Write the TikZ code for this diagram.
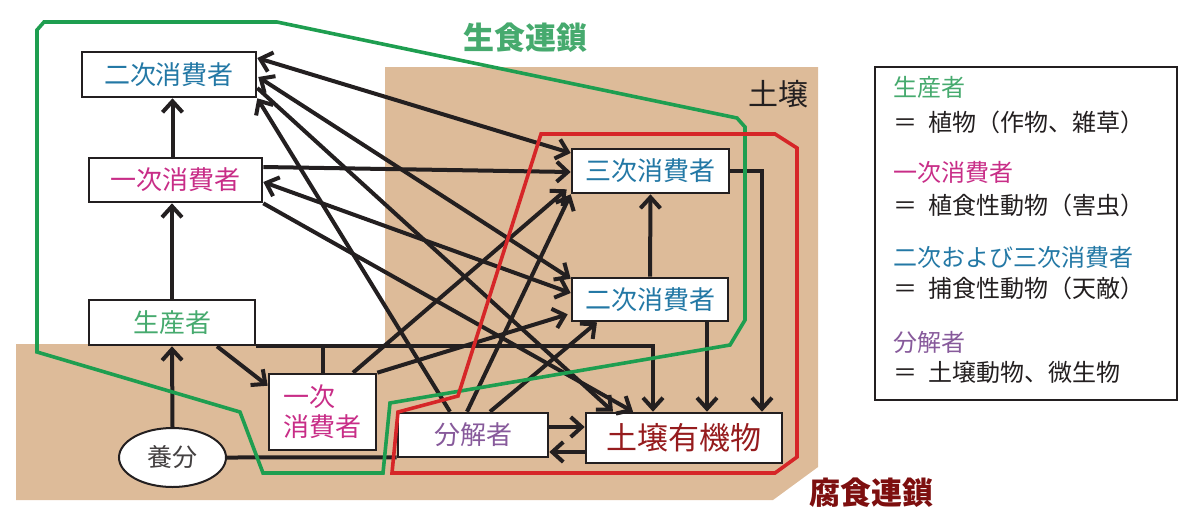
\documentclass[tikz,border=0pt]{standalone}
\usepackage{fontspec}
\setmainfont{Noto Sans CJK JP}
\usepackage{tikz}
\usetikzlibrary{calc,arrows.meta,positioning,shapes.geometric}
\definecolor{soil}{RGB}{221,187,153}
\definecolor{linegreen}{RGB}{30,158,80}
\definecolor{linered}{RGB}{214,38,40}
\definecolor{txtgreen}{RGB}{70,170,110}
\definecolor{txtmag}{RGB}{200,45,135}
\definecolor{txtblue}{RGB}{35,120,165}
\definecolor{txtpurple}{RGB}{135,90,155}
\definecolor{txtdred}{RGB}{150,28,30}
\definecolor{titlered}{RGB}{125,15,15}
\definecolor{ink}{RGB}{35,31,32}

\begin{document}
\begin{tikzpicture}
	[   x=0.5pt, y=-0.5pt,
	    cbox/.style={draw=ink,line width=1.3pt,fill=white,text=#1,inner sep=0pt,font=\fontsize{13}{15}\selectfont},
	    >={Straight Barb[length=5.5pt,width=10pt]},
	]
	\tikzset{normal arrow/.style={draw=ink,line width=2pt,->},
	         both arrow/.style={draw=ink,line width=2pt,<->},
	         plain line/.style={draw=ink,line width=2pt}}
	\useasboundingbox (0,0) rectangle (1200,516);
	\fill[soil] (16,344) -- (385,344) -- (385,67) -- (818,67) -- (818,467) -- (773,500) -- (16,500) -- cycle;
	\node[text=ink,font=\fontsize{15}{15}\selectfont] (soil) at (778,94) {土壌};
	
	\node[cbox=txtblue,minimum width=87pt,minimum height=22.5pt] (c2) at (169,74.5) {二次消費者};
	\node[cbox=txtmag,minimum width=86.5pt,minimum height=22pt] (c1) at (175.5,180) {一次消費者};
	\node[cbox=txtgreen,minimum width=83pt,minimum height=22.5pt] (prod) at (172,322.5) {生産者};
	\node[cbox=txtmag,minimum width=53.5pt,minimum height=38pt,align=left] (c1s) at (322.5,412) {一次\\消費者};
	\node[cbox=txtpurple,minimum width=75pt,minimum height=22pt] (dec) at (473,435) {分解者};
	\node[cbox=txtdred,minimum width=98pt,minimum height=25pt,font=\fontsize{15.5}{16}\selectfont] (org) at (684,438) {土壌有機物};
	\node[cbox=txtblue,minimum width=78.5pt,minimum height=22pt] (c3) at (650.5,171) {三次消費者};
	\node[cbox=txtblue,minimum width=78pt,minimum height=21.5pt] (c2s) at (650,299.5) {二次消費者};
	\node[cbox=ink!85,ellipse,line width=1pt,minimum width=53.5pt,minimum height=29.5pt,font=\fontsize{12.5}{13}\selectfont] (nut) at (172.5,457.5) {養分};
	
	\path[both arrow] ($(c2.east)+(0,-16.5)$) -- ($(c3.west)+(0,-18)$);
	\path[both arrow] ($(c2.east)+(1,2.5)$) -- ($(c2s.north west)+(0,2)$);
	\path[normal arrow] ($(c2.east)+(0,13.5)$) -- ($(org.north)+(-71,0)$);
	\path[normal arrow] ($(dec.north)+(-23,0)$) -- (c2.south east);
	\path[normal arrow] ($(c1.east)+(0,-13)$) -- ($(c3.west)+(0,1)$);
	\path[both arrow] ($(c1.east)+(0,2)$) -- ($(c2s.west)+(0,-6.5)$);
	\path[normal arrow] (c1.south east) -- ($(org.north)+(-51,0)$);
	\path[normal arrow] (c1.north -| nut) -- (c2.south -| nut);
	\path[normal arrow] (prod.north) -- (c1.south -| prod);
	\path[normal arrow] (nut.north) -- (prod.south);
	\path[normal arrow] ($(prod.south)+(45,0)$) -- ($(c1s.north west)+(0,13)$);
	\path[normal arrow] (prod.south east) -| ($(org.north)+(-31,0)$);
	\path[plain line] (c1s.north) -- (c1s.north |- prod.south);
	\path[normal arrow] ($(c1s.north)+(30.5,0)$) -- ($(c3.south west)+(-4,-5)$);
	\path[normal arrow] (c1s.north east) -- ($(c2s.south west)+(-3,-8)$);
	\path[normal arrow] ($(dec.north)+(-6,0)$) -- (c3.south west);
	\path[normal arrow] ($(dec.north)+(17,0)$) -- ($(c2s.south)+(-53,0)$);
	\path[normal arrow] (c3.east) -| ($(org.north)+(78,0)$);
	\path[normal arrow] ($(c2s.south)+(57,0)$) -- ($(org.north)+(23,0)$);
	\path[normal arrow] (c2s.north) -- (c3.south);
	\path[normal arrow] ($(dec.east)+(0,-8)$) -- ($(org.west)+(0,-11)$);
	\path[normal arrow] ($(org.west)+(0,14)$) -- ($(dec.east)+(0,17)$);
	\path[plain line] (nut.east) -- ($(dec.south west)+(0,-1)$);
	
	\draw[linegreen,line width=1.8pt] (37,30) -- (44,22) -- (277,22) -- (737,118) -- (745,127) -- (745,320) -- (730,345) -- (390,403) -- (383,473) -- (263,473) -- (240,412) -- (37,352) -- cycle;
	\draw[linered,line width=1.8pt] (541,134) -- (775,134) -- (797,148) -- (797,457) -- (775,473) -- (392,473) -- (398,412) -- (458,396) -- cycle;
	\node[text=txtgreen,font=\fontsize{15.5}{16}\selectfont\bfseries] (raw) at (525,38) {生食連鎖};
	\node[text=titlered,font=\fontsize{15.5}{16}\selectfont\bfseries] (rot) at (871,493) {腐食連鎖};
	
	\node[draw=ink,line width=1pt,minimum width=151pt,minimum height=166.5pt] (leg) at (1026,233.5) {};
	\foreach \y/\c/\txt in {87/txtgreen/生産者, 122/ink/＝\hspace{0.45em}植物（作物、雑草）, 172/txtmag/一次消費者, 205/ink/＝\hspace{0.45em}植食性動物（害虫）, 257/txtblue/二次および三次消費者, 288/ink/＝\hspace{0.45em}捕食性動物（天敵）, 342/txtpurple/分解者, 372/ink/＝\hspace{0.45em}土壌動物、微生物}
	{
		\node[anchor=west,text=\c,inner sep=0pt,font=\fontsize{12}{12}\selectfont] at (893,\y) {\txt};
	}
\end{tikzpicture}
\end{document}
